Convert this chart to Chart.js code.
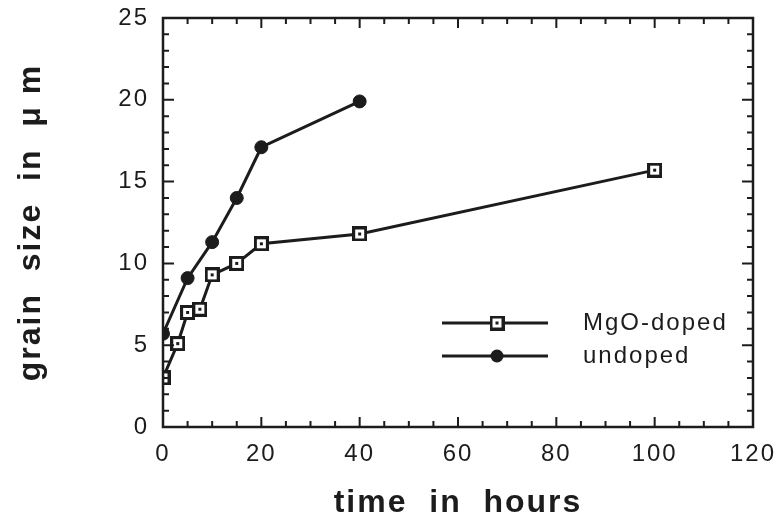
<!DOCTYPE html>
<html lang="en">
<head>
<meta charset="UTF-8">
<title>Grain size vs annealing time</title>
<style>
  body { margin: 0; background: #fff; }
  #chartBox { width: 781px; height: 524px; }
</style>
<script src="https://cdn.jsdelivr.net/npm/chart.js"></script>
</head>
<body>
<div id="chartBox"><canvas id="grainChart" width="781" height="524"></canvas></div>
<script>
// values
const hoursMgO = [0, 3, 5, 7.5, 10, 15, 20, 40, 100];
const sizeMgO = [3.0, 5.1, 7.0, 7.2, 9.3, 10.0, 11.2, 11.8, 15.7];
const hoursUndoped = [0, 5, 10, 15, 20, 40];
const sizeUndoped = [5.7, 9.1, 11.3, 14.0, 17.1, 19.9];
const seriesNames = ['MgO-doped', 'undoped'];
const xTickValues = [0, 20, 40, 60, 80, 100, 120];
const yTickValues = [0, 5, 10, 15, 20, 25];

const ink = '#1c1c1c';
const fontFamily = '"Liberation Sans", Arial, Helvetica, sans-serif';

// open square with a small dot in the middle
function makeSquareMarker() {
    const c = document.createElement('canvas');
    c.width = 15; c.height = 15;
    const g = c.getContext('2d');
    g.fillStyle = ink; g.fillRect(0, 0, 15, 15);
    g.fillStyle = '#fff'; g.fillRect(3, 3, 9, 9);
    g.fillStyle = ink; g.fillRect(6, 6, 3, 3);
    return c;
}
const squareMarker = makeSquareMarker();

// spacing of the scanned lettering
const spacingPlugin = {
    id: 'spacing',
    beforeLayout(chart) { chart.ctx.letterSpacing = '2px'; },
    beforeDraw(chart) { chart.ctx.letterSpacing = '2px'; }
};

// closed frame with inward ticks on all four sides
const framePlugin = {
    id: 'frame',
    afterDatasetsDraw(chart) {
        const { ctx, chartArea: a, scales: { x, y } } = chart;
        ctx.save();
        ctx.strokeStyle = ink;
        ctx.lineWidth = 2.5;
        ctx.strokeRect(a.left, a.top, a.right - a.left, a.bottom - a.top);
        ctx.lineWidth = 2;
        ctx.beginPath();
        for (let v = x.min; v <= x.max; v += 5) {
            const px = x.getPixelForValue(v);
            const len = v % 20 === 0 ? 10 : 6;
            ctx.moveTo(px, a.bottom); ctx.lineTo(px, a.bottom - len);
            ctx.moveTo(px, a.top); ctx.lineTo(px, a.top + len);
        }
        for (let v = y.min; v <= y.max; v += 1) {
            const py = y.getPixelForValue(v);
            const len = v % 5 === 0 ? 11 : 6;
            ctx.moveTo(a.left, py); ctx.lineTo(a.left + len, py);
            ctx.moveTo(a.right, py); ctx.lineTo(a.right - len, py);
        }
        ctx.stroke();
        ctx.restore();
    }
};

// legend inside the plot, line with marker through it
const innerLegend = {
    id: 'innerLegend',
    afterDraw(chart) {
        const { ctx, chartArea: a } = chart;
        const x0 = a.left + 279, x1 = a.left + 385, tx = a.left + 420;
        const rows = [a.top + 305, a.top + 338];
        ctx.save();
        ctx.font = '24px ' + fontFamily;
        ctx.textBaseline = 'middle';
        ctx.fillStyle = ink;
        chart.data.datasets.forEach((ds, i) => {
            const yy = rows[i];
            ctx.strokeStyle = ink;
            ctx.lineWidth = 3;
            ctx.beginPath(); ctx.moveTo(x0, yy); ctx.lineTo(x1, yy); ctx.stroke();
            const cx = (x0 + x1) / 2 + 2;
            if (ds.pointStyle === squareMarker) {
                ctx.drawImage(squareMarker, cx - 7.5, yy - 7.5);
            } else {
                ctx.beginPath(); ctx.arc(cx, yy, 6.5, 0, Math.PI * 2); ctx.fill();
            }
            ctx.fillText(ds.label, tx, yy);
        });
        ctx.restore();
    }
};

new Chart(document.getElementById('grainChart'), {
    type: 'line',
    data: {
        datasets: [{
            label: seriesNames[0],
            data: hoursMgO.map((h, i) => ({ x: h, y: sizeMgO[i] })),
            borderColor: ink,
            borderWidth: 3,
            pointStyle: squareMarker,
            pointRadius: 7,
            tension: 0
        }, {
            label: seriesNames[1],
            data: hoursUndoped.map((h, i) => ({ x: h, y: sizeUndoped[i] })),
            borderColor: ink,
            borderWidth: 3,
            pointStyle: 'circle',
            pointRadius: 6.5,
            pointBackgroundColor: ink,
            pointBorderColor: ink,
            pointBorderWidth: 1,
            tension: 0
        }]
    },
    options: {
        responsive: false,
        devicePixelRatio: 1,
        animation: false,
        layout: { padding: { top: 18, right: 28, left: 0, bottom: 0 } },
        plugins: { legend: { display: false }, tooltip: { enabled: false } },
        scales: {
            x: {
                type: 'linear', min: 0, max: 120,
                grid: { display: false, drawTicks: false },
                border: { display: false },
                afterBuildTicks: s => { s.ticks = xTickValues.map(v => ({ value: v })); },
                afterFit: s => { s.height = 97; s.paddingLeft = 0; s.paddingRight = 0; },
                ticks: { color: ink, padding: 13, maxRotation: 0, font: { family: fontFamily, size: 24 } },
                title: {
                    display: true, text: 'time  in  hours', color: ink,
                    font: { family: fontFamily, size: 32, weight: 'bold' },
                    padding: { top: 0, bottom: 2 }
                }
            },
            y: {
                type: 'linear', min: 0, max: 25,
                grid: { display: false, drawTicks: false },
                border: { display: false },
                afterBuildTicks: s => { s.ticks = yTickValues.map(v => ({ value: v })); },
                afterFit: s => { s.width = 163; s.paddingTop = 0; s.paddingBottom = 0; },
                ticks: { color: ink, padding: 14, font: { family: fontFamily, size: 24 } },
                title: {
                    display: true, text: 'grain  size  in  \u03bc m', color: ink,
                    font: { family: fontFamily, size: 32, weight: 'bold' },
                    padding: { top: 12, bottom: 0 }
                }
            }
        }
    },
    plugins: [spacingPlugin, framePlugin, innerLegend]
});
</script>
</body>
</html>
